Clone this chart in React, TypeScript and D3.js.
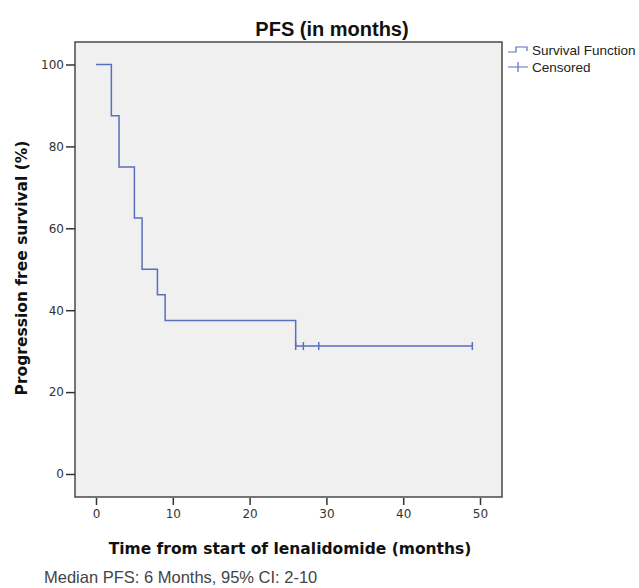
import { useEffect, useRef } from "react";
import * as d3 from "d3";

// KM estimate, step points (months, % progression free)
const stepTimes = [0, 2, 3, 5, 6, 8, 9, 26, 49];
const stepSurvival = [100, 87.5, 75, 62.5, 50, 43.75, 37.5, 31.25, 31.25];
const censoredTimes = [26, 27, 29, 49];
const censoredSurvival = [31.25, 31.25, 31.25, 31.25];
const xTicks = [0, 10, 20, 30, 40, 50];
const yTicks = [0, 20, 40, 60, 80, 100];

const W = 639;
const H = 588;
const FRAME = { left: 75, right: 502, top: 42, bottom: 497 };
const LINE = "#5a6ebf";

export default function App() {
  const ref = useRef<SVGSVGElement>(null);

  useEffect(() => {
    const svg = d3.select(ref.current);
    svg.selectAll("*").remove();

    const x = d3.scaleLinear().domain([0, 50]).range([96, 480]);
    const y = d3.scaleLinear().domain([0, 100]).range([474, 64.5]);

    // plot frame
    svg.append("rect")
      .attr("x", FRAME.left).attr("y", FRAME.top)
      .attr("width", FRAME.right - FRAME.left).attr("height", FRAME.bottom - FRAME.top)
      .attr("fill", "#f0f0f0").attr("stroke", "#4a4a4a").attr("stroke-width", 1.5);

    // y axis
    const yAxis = svg.append("g").attr("transform", `translate(${FRAME.left},0)`)
      .call(d3.axisLeft(y).tickValues(yTicks).tickSize(9).tickPadding(2));
    yAxis.select(".domain").remove();
    yAxis.selectAll("line").attr("stroke", "#333").attr("stroke-width", 1.5);
    yAxis.selectAll("text").attr("font-family", "DejaVu Sans").attr("font-size", 12).attr("fill", "#333");

    // x axis
    const xAxis = svg.append("g").attr("transform", `translate(0,${FRAME.bottom + 1})`)
      .call(d3.axisBottom(x).tickValues(xTicks).tickSize(7).tickPadding(4));
    xAxis.select(".domain").remove();
    xAxis.selectAll("line").attr("stroke", "#333").attr("stroke-width", 1.5);
    xAxis.selectAll("text").attr("font-family", "DejaVu Sans").attr("font-size", 12).attr("fill", "#333");

    // survival step line
    const pts: [number, number][] = stepTimes.map((t, i) => [t, stepSurvival[i]]);
    const line = d3.line<[number, number]>()
      .x((d) => x(d[0])).y((d) => y(d[1]))
      .curve(d3.curveStepAfter);
    svg.append("path").datum(pts).attr("d", line)
      .attr("fill", "none").attr("stroke", LINE).attr("stroke-width", 1.5);

    // censor marks
    svg.append("g").selectAll("line").data(censoredTimes).join("line")
      .attr("x1", (d) => x(d)).attr("x2", (d) => x(d))
      .attr("y1", (_, i) => y(censoredSurvival[i]) - 4)
      .attr("y2", (_, i) => y(censoredSurvival[i]) + 4)
      .attr("stroke", LINE).attr("stroke-width", 1.5);

    // title
    svg.append("text").attr("x", 332).attr("y", 36).attr("text-anchor", "middle")
      .attr("font-family", "Liberation Sans, Arial").attr("font-weight", "bold")
      .attr("font-size", 20).attr("fill", "#111").text("PFS (in months)");

    // axis titles
    svg.append("text").attr("x", 290).attr("y", 554).attr("text-anchor", "middle")
      .attr("font-family", "DejaVu Sans").attr("font-weight", "bold")
      .attr("font-size", 15.5).attr("fill", "#111").text("Time from start of lenalidomide (months)");
    svg.append("text")
      .attr("transform", `translate(27,268) rotate(-90)`)
      .attr("text-anchor", "middle")
      .attr("font-family", "DejaVu Sans").attr("font-weight", "bold")
      .attr("font-size", 15.5).attr("fill", "#111").text("Progression free survival (%)");

    // legend
    const lg = svg.append("g");
    lg.append("path").attr("d", "M508,52 H516 V47 H527 V51")
      .attr("fill", "none").attr("stroke", LINE).attr("stroke-width", 1.2);
    lg.append("text").attr("x", 532).attr("y", 55)
      .attr("font-family", "Liberation Sans, Arial").attr("font-size", 13.5).attr("fill", "#222")
      .text("Survival Function");
    lg.append("path").attr("d", "M508,67 H528 M518,62 V72")
      .attr("fill", "none").attr("stroke", LINE).attr("stroke-width", 1.2);
    lg.append("text").attr("x", 532).attr("y", 72)
      .attr("font-family", "Liberation Sans, Arial").attr("font-size", 13.5).attr("fill", "#222")
      .text("Censored");

    // footnote
    svg.append("text").attr("x", 44).attr("y", 583)
      .attr("font-family", "Liberation Sans, Arial").attr("font-size", 16.5).attr("fill", "#444")
      .text("Median PFS: 6 Months, 95% CI: 2-10");
  }, []);

  return (
    <svg ref={ref} width={W} height={H}
      style={{ position: "absolute", left: 0, top: 0, background: "#fff" }} />
  );
}
